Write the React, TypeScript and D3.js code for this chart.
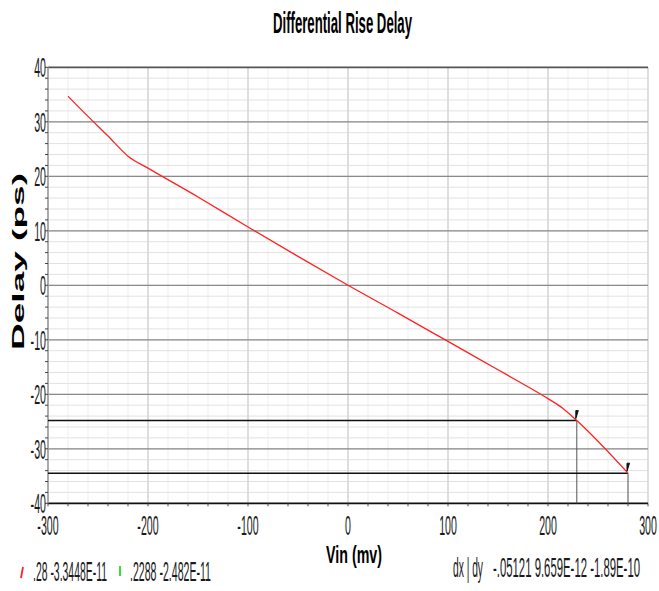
import * as d3 from "d3";

// Cursor-read values from the waveform viewer
const vinMv = [-280, -260, -240, -220, -200, -150, -100, -50, 0, 50, 100, 150, 175, 200, 215, 228.8, 280];
const delayPs = [34.7, 31.0, 27.4, 23.7, 21.5, 16.2, 10.7, 5.3, 0, -5.1, -10.3, -15.5, -18.1, -20.8, -22.6, -24.82, -34.48];

const xTicks = [-300, -200, -100, 0, 100, 200, 300];
const yTicks = [40, 30, 20, 10, 0, -10, -20, -30, -40];

// cursors: [vin, delay]
const cursorVin = [228.8, 280];
const cursorDelay = [-24.82, -34.48];

const legendLeft = [".28  -3.3448E-11", ".2288  -2.482E-11"];
const legendRight = ["dx | dy", "-.05121  9.659E-12  -1.89E-10"];

const W = 659;
const H = 591;
const FONT = "'Liberation Sans', Arial, sans-serif";

const x = d3.scaleLinear().domain([-300, 300]).range([48, 648]);
const y = d3.scaleLinear().domain([-40, 40]).range([503.3, 67.3]);

function Narrow({ px, py, text, size = 28, sx = 0.38, anchor = "middle", fill = "#1a1a1a", weight = 400, len }: any) {
  if (len) {
    return (
      <text x={px} y={py} fontSize={size} fontFamily={FONT} fontWeight={weight} fill={fill}
        textAnchor={anchor} textLength={len} lengthAdjust="spacingAndGlyphs">{text}</text>
    );
  }
  return (
    <text transform={`translate(${px},${py}) scale(${sx},1)`} fontSize={size} fontFamily={FONT}
      fontWeight={weight} fill={fill} textAnchor={anchor}>{text}</text>
  );
}

export default function App() {
  const line = d3.line<number>().x((d) => x(d)).y((_, i) => y(delayPs[i])).curve(d3.curveMonotoneX);
  const minorY = d3.range(-40, 41, 2);
  const minorX = d3.range(-300, 301, 20);
  const [x0, x1] = x.range();
  const [yb, yt] = y.range();

  return (
    <svg width={W} height={H} style={{ position: "absolute", left: 0, top: 0, background: "#fff" }}>
      {/* minor grid */}
      {minorX.map((v) => (
        <line key={"mx" + v} x1={x(v)} x2={x(v)} y1={yt} y2={yb} stroke="#efefef" strokeWidth={1} />
      ))}
      {minorY.map((v) => (
        <line key={"my" + v} x1={x0} x2={x1} y1={y(v)} y2={y(v)} stroke="#e2e2e2" strokeWidth={1} />
      ))}
      {/* major vertical grid */}
      {xTicks.map((v) => (
        <line key={"vx" + v} x1={x(v)} x2={x(v)} y1={yt} y2={yb} stroke="#d6d6d6" strokeWidth={1.5} />
      ))}
      {/* major horizontal grid */}
      {yTicks.map((v) => (
        <line key={"hy" + v} x1={x0} x2={x1} y1={y(v)} y2={y(v)}
          stroke={v === 40 ? "#555" : v === -40 ? "#111" : "#8a8a8a"}
          strokeWidth={v === 40 || v === -40 ? 1.8 : 1.2} />
      ))}
      {/* left axis */}
      <line x1={x0} x2={x0} y1={yt} y2={yb} stroke="#9a9a9a" strokeWidth={1.5} />
      {minorY.map((v) => (
        <line key={"ty" + v} x1={x0 - 3} x2={x0} y1={y(v)} y2={y(v)} stroke="#444" strokeWidth={1} />
      ))}
      {minorX.map((v) => (
        <line key={"tx" + v} x1={x(v)} x2={x(v)} y1={yb} y2={yb + 3} stroke="#444" strokeWidth={1} />
      ))}

      {/* cursor lines */}
      {cursorVin.map((v, i) => (
        <g key={"c" + i}>
          <line x1={x0} x2={x(v)} y1={y(cursorDelay[i])} y2={y(cursorDelay[i])} stroke="#111" strokeWidth={1.6} />
          <line x1={x(v)} x2={x(v)} y1={y(cursorDelay[i])} y2={yb} stroke="#555" strokeWidth={1} />
        </g>
      ))}

      {/* curve */}
      <path d={line(vinMv) ?? ""} fill="none" stroke="#f22" strokeWidth={1.3} />

      {/* cursor flags */}
      {cursorVin.map((v, i) => {
        const cx = x(v);
        const cy = y(cursorDelay[i]);
        return (
          <path key={"f" + i} d={`M${cx - 1},${cy - 2} L${cx - 1},${cy - 10} L${cx + 1.5},${cy - 10} Z`}
            fill="#111" stroke="#111" strokeWidth={1} />
        );
      })}

      {/* tick labels */}
      {yTicks.map((v) => (
        <Narrow key={"yl" + v} px={46} py={y(v) + 10} text={String(v)} anchor="end" />
      ))}
      {xTicks.map((v) => (
        <Narrow key={"xl" + v} px={x(v)} py={535} text={String(v)} />
      ))}

      {/* title & axis labels */}
      <Narrow px={273} py={33} text="Differential Rise Delay" size={29} weight={700} fill="#000" anchor="start" len={139} />
      <Narrow px={326} py={563} text="Vin (mv)" size={24} weight={700} fill="#000" anchor="start" len={56} />
      <text transform="translate(24,261.5) rotate(-90)" fontSize={16.5} fontWeight={700} fontFamily={FONT}
        fill="#000" textAnchor="middle" textLength={177} lengthAdjust="spacingAndGlyphs">Delay (ps)</text>

      {/* legend */}
      <path d="M21,578 L23,567" stroke="#f22" strokeWidth={1.8} />
      <Narrow px={33} py={581} text={legendLeft[0]} anchor="start" len={74} />
      <path d="M120,576 L120,566" stroke="#2d2" strokeWidth={1.8} />
      <Narrow px={130} py={581} text={legendLeft[1]} anchor="start" len={81} />
      <Narrow px={453} py={577} text={legendRight[0]} anchor="start" len={30} />
      <Narrow px={493} py={577} text={legendRight[1]} anchor="start" len={147} />
    </svg>
  );
}
